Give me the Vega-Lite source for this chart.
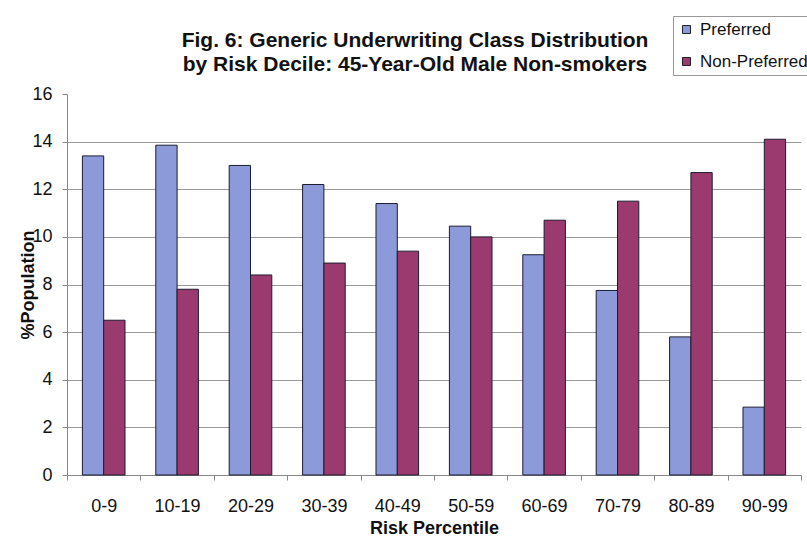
{
  "$schema": "https://vega.github.io/schema/vega-lite/v6.json",
  "width": 734,
  "height": 381,
  "autosize": {"type": "none"},
  "padding": {"left": 67, "top": 94, "right": 6, "bottom": 68},
  "background": "white",
  "config": {
    "font": "Liberation Sans",
    "view": {"stroke": null}
  },
  "title": {
    "text": ["Fig. 6:  Generic Underwriting Class Distribution", "by Risk Decile: 45-Year-Old Male Non-smokers"],
    "font": "Liberation Sans",
    "fontSize": 21,
    "fontWeight": "bold",
    "color": "#111111",
    "anchor": "middle",
    "frame": "group",
    "baseline": "alphabetic",
    "dx": -19,
    "offset": 0,
    "dy": 76,
    "lineHeight": 24
  },
  "data": {
    "values": [
      {"decile": "0-9", "cls": "Preferred", "pct": 13.4},
      {"decile": "10-19", "cls": "Preferred", "pct": 13.85},
      {"decile": "20-29", "cls": "Preferred", "pct": 13.0},
      {"decile": "30-39", "cls": "Preferred", "pct": 12.2},
      {"decile": "40-49", "cls": "Preferred", "pct": 11.4},
      {"decile": "50-59", "cls": "Preferred", "pct": 10.45},
      {"decile": "60-69", "cls": "Preferred", "pct": 9.25},
      {"decile": "70-79", "cls": "Preferred", "pct": 7.75},
      {"decile": "80-89", "cls": "Preferred", "pct": 5.8},
      {"decile": "90-99", "cls": "Preferred", "pct": 2.85},
      {"decile": "0-9", "cls": "Non-Preferred", "pct": 6.5},
      {"decile": "10-19", "cls": "Non-Preferred", "pct": 7.8},
      {"decile": "20-29", "cls": "Non-Preferred", "pct": 8.4},
      {"decile": "30-39", "cls": "Non-Preferred", "pct": 8.9},
      {"decile": "40-49", "cls": "Non-Preferred", "pct": 9.4},
      {"decile": "50-59", "cls": "Non-Preferred", "pct": 10.0},
      {"decile": "60-69", "cls": "Non-Preferred", "pct": 10.7},
      {"decile": "70-79", "cls": "Non-Preferred", "pct": 11.5},
      {"decile": "80-89", "cls": "Non-Preferred", "pct": 12.7},
      {"decile": "90-99", "cls": "Non-Preferred", "pct": 14.1}
    ]
  },
  "mark": {"type": "bar", "stroke": "#1c1c30", "strokeWidth": 1},
  "encoding": {
    "x": {
      "field": "decile",
      "type": "nominal",
      "sort": ["0-9", "10-19", "20-29", "30-39", "40-49", "50-59", "60-69", "70-79", "80-89", "90-99"],
      "scale": {"paddingInner": 0, "paddingOuter": 0},
      "axis": {
        "title": "Risk Percentile",
        "titleFontSize": 18,
        "titleFontWeight": "bold",
        "titleColor": "#111111",
        "titlePadding": 4,
        "labelAngle": 0,
        "labelFontSize": 18,
        "labelColor": "#111111",
        "labelPadding": 17,
        "tickBand": "extent",
        "tickSize": 5,
        "tickColor": "#888888",
        "domainColor": "#888888",
        "grid": false
      }
    },
    "xOffset": {
      "field": "cls",
      "type": "nominal",
      "sort": ["Preferred", "Non-Preferred"],
      "scale": {"paddingInner": 0, "paddingOuter": 0.723}
    },
    "y": {
      "field": "pct",
      "type": "quantitative",
      "scale": {"domain": [0, 16], "nice": false},
      "axis": {
        "title": "%Population",
        "titleFontSize": 18,
        "titleFontWeight": "bold",
        "titleColor": "#111111",
        "titleAngle": -90,
        "titleAlign": "center",
        "titleBaseline": "middle",
        "titleX": -39,
        "titleY": 190.5,
        "values": [0, 2, 4, 6, 8, 10, 12, 14, 16],
        "labelFontSize": 18,
        "labelColor": "#111111",
        "labelPadding": 10,
        "tickSize": 5,
        "tickColor": "#888888",
        "domainColor": "#888888",
        "grid": true,
        "gridColor": "#999999",
        "gridOpacity": {"condition": {"test": "datum.value === 16 || datum.value === 0", "value": 0}, "value": 1}
      }
    },
    "color": {
      "field": "cls",
      "type": "nominal",
      "scale": {"domain": ["Preferred", "Non-Preferred"], "range": ["#8C9AD9", "#9B3A6E"]},
      "legend": {
        "title": null,
        "orient": "none",
        "legendX": 606,
        "legendY": -78,
        "strokeColor": "#999999",
        "fillColor": "white",
        "padding": 5,
        "rowPadding": 14,
        "symbolType": "square",
        "symbolSize": 64,
        "symbolStrokeColor": "#222222",
        "symbolStrokeWidth": 1,
        "labelFontSize": 17,
        "labelColor": "#111111",
        "labelOffset": 5
      }
    }
  }
}
